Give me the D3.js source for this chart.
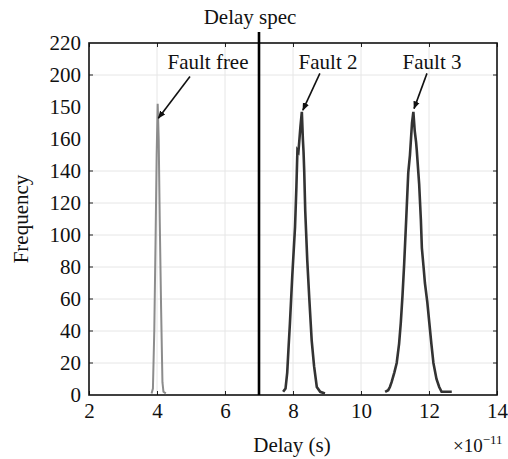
<!DOCTYPE html>
<html>
<head>
<meta charset="utf-8">
<script src="https://cdn.jsdelivr.net/npm/d3@7"></script>
<style>
	body { margin: 0; background: #fff; }
	text { font-family: "Liberation Serif", "Times New Roman", serif; fill: #111; }
</style>
</head>
<body>
<svg id="chart" width="508" height="459"></svg>
<script>
// histogram outlines, delay in units of 1e-11 s
const faultFree = [[3.84,1],[3.88,4],[3.92,40],[3.96,100],[3.99,150],[4.02,182],[4.05,160],[4.08,110],[4.12,55],[4.16,8],[4.19,2],[4.26,1]];
const fault2 = [[7.71,2],[7.78,4],[7.83,14],[7.87,30],[7.91,45],[7.98,75],[8.06,105],[8.10,130],[8.13,153],[8.16,152],[8.22,168],[8.26,177],[8.29,160],[8.31,152],[8.33,140],[8.36,115],[8.42,84],[8.48,60],[8.55,34],[8.62,18],[8.70,5],[8.80,2],[8.94,1]];
const fault3 = [[10.71,2],[10.80,3],[10.85,5],[10.90,8],[10.98,14],[11.05,20],[11.12,32],[11.17,45],[11.22,62],[11.27,82],[11.33,110],[11.39,139],[11.44,150],[11.47,160],[11.50,170],[11.54,177],[11.58,165],[11.62,158],[11.64,153],[11.71,132],[11.76,110],[11.79,92],[11.84,80],[11.88,70],[11.95,58],[12.01,45],[12.07,32],[12.13,20],[12.22,10],[12.30,5],[12.37,2],[12.50,2],[12.67,2]];

const delaySpec = 7;

const xTicks = [2, 4, 6, 8, 10, 12, 14];
const yTicks = [0, 20, 40, 60, 80, 100, 120, 140, 160, 180, 200, 220];
// labels as printed in the figure (note the "150" at the 180 position)
const yTickLabels = ["0", "20", "40", "60", "80", "100", "120", "140", "160", "150", "200", "220"];
// grid/tick marks that the figure actually shows
const yGridTicks = [20, 40, 60, 80, 100, 120, 140, 200];

const annotations = [
	{ text: "Fault free", lx: 5.5, ly: 208, x1: 4.97, y1: 199, x2: 4.04, y2: 173 },
	{ text: "Fault 2", lx: 9.03, ly: 208, x1: 8.79, y1: 201, x2: 8.29, y2: 178 },
	{ text: "Fault 3", lx: 12.09, ly: 208, x1: 11.94, y1: 201, x2: 11.56, y2: 179 }
];

const svg = d3.select("#chart");
const plotLeft = 89, plotRight = 497, plotTop = 43, plotBottom = 395;
const fontSize = "21px";

const x = d3.scaleLinear().domain([2, 14]).range([plotLeft, plotRight]);
const y = d3.scaleLinear().domain([0, 220]).range([plotBottom, plotTop]);

// grid
svg.append("g").selectAll("line")
	.data(xTicks.slice(1, -1))
	.enter().append("line")
	.attr("x1", d => x(d)).attr("x2", d => x(d))
	.attr("y1", plotTop).attr("y2", plotBottom)
	.attr("stroke", "#e6e6e6").attr("stroke-width", 1);

svg.append("g").selectAll("line")
	.data(yGridTicks)
	.enter().append("line")
	.attr("x1", plotLeft).attr("x2", plotRight)
	.attr("y1", d => y(d)).attr("y2", d => y(d))
	.attr("stroke", "#e6e6e6").attr("stroke-width", 1);

// ticks inside the box
const tickLen = 4;
const xBottom = d3.axisBottom(x).tickValues(xTicks).tickSize(-tickLen).tickFormat(d => d);
const gx = svg.append("g").attr("transform", `translate(0,${plotBottom})`).call(xBottom);
gx.select(".domain").remove();
gx.selectAll(".tick line").attr("stroke", "#222");
gx.selectAll(".tick text").attr("dy", "1.0em").attr("y", 2)
	.style("font-family", '"Liberation Serif", serif').style("font-size", fontSize).attr("fill", "#111");

const gxTop = svg.append("g").attr("transform", `translate(0,${plotTop})`)
	.call(d3.axisTop(x).tickValues(xTicks).tickSize(-tickLen).tickFormat(""));
gxTop.select(".domain").remove();
gxTop.selectAll(".tick line").attr("stroke", "#222");

const yLeft = d3.axisLeft(y).tickValues(yTicks).tickSize(0)
	.tickFormat((d, i) => yTickLabels[i]);
const gy = svg.append("g").attr("transform", `translate(${plotLeft},0)`).call(yLeft);
gy.select(".domain").remove();
gy.selectAll(".tick text").attr("x", -8)
	.style("font-family", '"Liberation Serif", serif').style("font-size", fontSize).attr("fill", "#111");

svg.append("g").selectAll("line")
	.data(yGridTicks)
	.enter().append("line")
	.attr("x1", plotLeft).attr("x2", plotLeft + tickLen)
	.attr("y1", d => y(d)).attr("y2", d => y(d))
	.attr("stroke", "#222");
svg.append("g").selectAll("line")
	.data(yGridTicks)
	.enter().append("line")
	.attr("x1", plotRight - tickLen).attr("x2", plotRight)
	.attr("y1", d => y(d)).attr("y2", d => y(d))
	.attr("stroke", "#222");

// frame
svg.append("rect")
	.attr("x", plotLeft).attr("y", plotTop)
	.attr("width", plotRight - plotLeft).attr("height", plotBottom - plotTop)
	.attr("fill", "none").attr("stroke", "#111").attr("stroke-width", 1.6);

// curves
const line = d3.line().x(d => x(d[0])).y(d => y(d[1]));
svg.append("path").datum(faultFree).attr("d", line)
	.attr("fill", "none").attr("stroke", "#8c8c8c").attr("stroke-width", 2);
svg.append("path").datum(fault2).attr("d", line)
	.attr("fill", "none").attr("stroke", "#333").attr("stroke-width", 2.6);
svg.append("path").datum(fault3).attr("d", line)
	.attr("fill", "none").attr("stroke", "#333").attr("stroke-width", 2.6);

// delay spec line
svg.append("line")
	.attr("x1", x(delaySpec)).attr("x2", x(delaySpec))
	.attr("y1", plotTop - 11).attr("y2", plotBottom)
	.attr("stroke", "#000").attr("stroke-width", 2.6);
svg.append("text")
	.attr("x", x(delaySpec) - 9).attr("y", 24)
	.attr("text-anchor", "middle")
	.style("font-size", fontSize)
	.text("Delay spec");

// annotations
svg.append("defs").append("marker")
	.attr("id", "head")
	.attr("viewBox", "0 0 10 10")
	.attr("refX", 9).attr("refY", 5)
	.attr("markerWidth", 5).attr("markerHeight", 5)
	.attr("orient", "auto")
	.append("path").attr("d", "M0,1 L10,5 L0,9 Z").attr("fill", "#111");

annotations.forEach(a => {
	svg.append("text")
		.attr("x", x(a.lx)).attr("y", y(a.ly) + 7)
		.attr("text-anchor", "middle")
		.style("font-size", fontSize)
		.text(a.text);
	svg.append("line")
		.attr("x1", x(a.x1)).attr("y1", y(a.y1))
		.attr("x2", x(a.x2)).attr("y2", y(a.y2))
		.attr("stroke", "#111").attr("stroke-width", 1.6)
		.attr("marker-end", "url(#head)");
});

// axis titles
svg.append("text")
	.attr("x", 292).attr("y", 452)
	.attr("text-anchor", "middle")
	.style("font-size", fontSize)
	.text("Delay (s)");

svg.append("text")
	.attr("transform", `translate(28,${(plotTop + plotBottom) / 2}) rotate(-90)`)
	.attr("text-anchor", "middle")
	.style("font-size", fontSize)
	.text("Frequency");

const exp = svg.append("text")
	.attr("x", 453).attr("y", 452)
	.style("font-size", "19px");
exp.append("tspan").text("×10");
exp.append("tspan").attr("dy", -8).style("font-size", "13px").text("−11");
</script>
</body>
</html>
